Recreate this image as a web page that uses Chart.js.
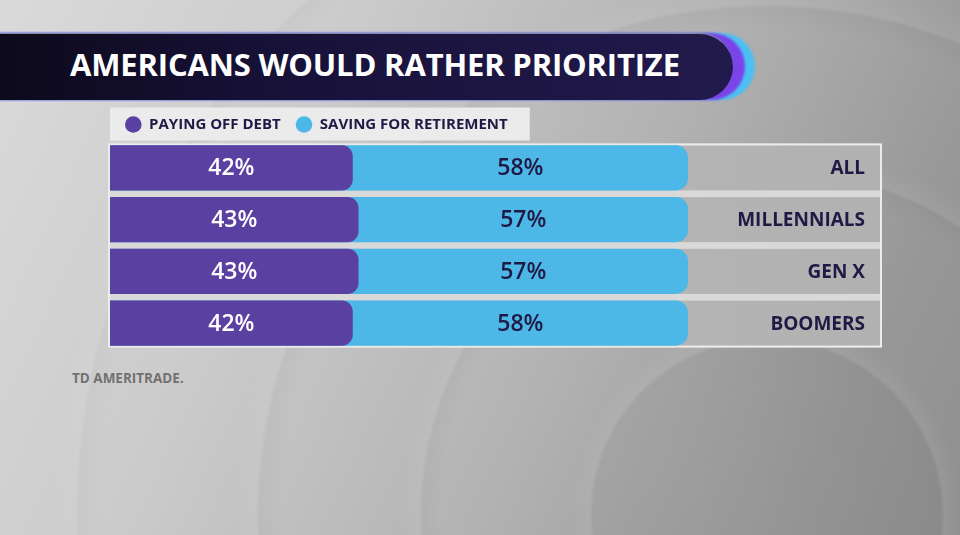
<!DOCTYPE html>
<html>
<head>
<meta charset="utf-8">
<script src="https://cdn.jsdelivr.net/npm/chart.js@4.4.1/dist/chart.umd.min.js"></script>
<style>
  html, body { margin: 0; padding: 0; }
  body {
    width: 960px; height: 535px; overflow: hidden; position: relative;
    font-family: "Open Sans", sans-serif;
    background:
      radial-gradient(circle at 767px 515px,
        rgba(0,0,0,0.02) 0, rgba(0,0,0,0.04) 174px, rgba(255,255,255,0.06) 178px, rgba(255,255,255,0) 196px,
        rgba(0,0,0,0) 325px, rgba(0,0,0,0.03) 344px, rgba(255,255,255,0.06) 348px, rgba(255,255,255,0) 368px,
        rgba(0,0,0,0) 485px, rgba(0,0,0,0.03) 507px, rgba(255,255,255,0.06) 511px, rgba(255,255,255,0) 535px,
        rgba(0,0,0,0) 665px, rgba(0,0,0,0.025) 688px, rgba(255,255,255,0.05) 692px, rgba(255,255,255,0) 715px),
      linear-gradient(115deg, #dadada 0%, #cbcbcb 30%, #b2b2b2 60%, #989898 85%, #8f8f8f 100%);
  }
  .band { position: absolute; left: 0; top: 33px; height: 67px; border-radius: 0 34px 34px 0; }
  #b1 { width: 755px; background: #4cc0f2; filter: blur(1.2px); }
  #b2 { width: 745px; background: #7a44e8; filter: blur(1px); }
  #b3 { width: 733px; background: linear-gradient(90deg, #0c0a1b 0%, #18123a 40%, #211a4c 100%); border-top: 1px solid #8a86a0; box-sizing: border-box; }
  #title { position: absolute; left: 70px; top: 49px; font-size: 31px; line-height: 31px; font-weight: 700; color: #ffffff; white-space: nowrap; }
  #source { position: absolute; left: 72px; top: 372px; font-size: 13.5px; line-height: 13px; font-weight: 700; color: #717171; white-space: nowrap; }
  #wrap { position: absolute; left: 0; top: 0; width: 960px; height: 535px; }
</style>
</head>
<body>
<div class="band" id="b1"></div>
<div class="band" id="b2"></div>
<div class="band" id="b3"></div>
<div id="title">AMERICANS WOULD RATHER PRIORITIZE</div>
<div id="source">TD AMERITRADE.</div>
<div id="wrap"><canvas id="c" width="960" height="535"></canvas></div>
<script>
// ---- data ----
const categories = ["ALL", "MILLENNIALS", "GEN X", "BOOMERS"];
const seriesNames = ["PAYING OFF DEBT", "SAVING FOR RETIREMENT"];
const payingOffDebt = [42, 43, 43, 42];
const savingForRetirement = [58, 57, 57, 58];

// fit title width
(function () {
  const t = document.getElementById('title');
  const target = 610;
  const w = t.getBoundingClientRect().width;
  const n = t.textContent.length;
  t.style.letterSpacing = ((target - w) / (n - 1)) + 'px';
})();

const PURPLE = '#5a40a0';
const CYAN = '#4db7e7';
const NAVY = '#1f1a45';
const FONT = '"Open Sans", sans-serif';

const panelPlugin = {
  id: 'panel',
  beforeDraw(chart) {
    const ctx = chart.ctx;
    const lg = chart.legend;
    if (lg && lg.legendHitBoxes && lg.legendHitBoxes.length) {
      const hbs = lg.legendHitBoxes;
      const last = hbs[hbs.length - 1];
      const cy = hbs[0].top + hbs[0].height / 2;
      ctx.save();
      ctx.fillStyle = '#ebebeb';
      ctx.fillRect(lg.left, cy - 17, last.left + last.width + 22 - lg.left, 33);
      ctx.restore();
    }
  },
  beforeDatasetsDraw(chart) {
    const ctx = chart.ctx;
    const meta = chart.getDatasetMeta(0);
    const els = meta.data;
    if (!els.length) return;
    const left = chart.chartArea.left;
    const right = 880;
    const first = els[0], last = els[els.length - 1];
    const top = first.y - first.height / 2;
    const bottom = last.y + last.height / 2;
    ctx.save();
    ctx.fillStyle = '#d9d9d9';
    ctx.fillRect(left, top, right - left, bottom - top);
    els.forEach(el => {
      const g = ctx.createLinearGradient(left, 0, right, 0);
      g.addColorStop(0, '#bdbdbd');
      g.addColorStop(1, '#b1b1b1');
      ctx.fillStyle = g;
      ctx.fillRect(left, el.y - el.height / 2, right - left, el.height);
    });
    ctx.strokeStyle = '#ececec';
    ctx.lineWidth = 2;
    ctx.strokeRect(left - 1, top - 1, right - left + 2, bottom - top + 2);
    ctx.restore();
  },
  afterDatasetsDraw(chart) {
    const ctx = chart.ctx;
    const xs = chart.scales.x, ys = chart.scales.y;
    const m0 = chart.getDatasetMeta(0), m1 = chart.getDatasetMeta(1);
    ctx.save();
    ctx.textBaseline = 'middle';
    ctx.textAlign = 'center';
    ctx.font = '600 23px ' + FONT;
    m0.data.forEach((el, i) => {
      ctx.fillStyle = '#ffffff';
      const x0 = xs.getPixelForValue(0);
      ctx.fillText(payingOffDebt[i] + '%', (x0 + el.x) / 2, el.y + 1);
    });
    m1.data.forEach((el, i) => {
      ctx.fillStyle = NAVY;
      const xa = xs.getPixelForValue(payingOffDebt[i]);
      ctx.fillText(savingForRetirement[i] + '%', (xa + el.x) / 2, el.y + 1);
    });
    ctx.textAlign = 'right';
    ctx.font = '700 19px ' + FONT;
    ctx.fillStyle = NAVY;
    categories.forEach((c, i) => {
      ctx.fillText(c, 865, ys.getPixelForValue(i) + 1);
    });
    ctx.restore();
  }
};

new Chart(document.getElementById('c'), {
  type: 'bar',
  data: {
    labels: categories,
    datasets: [
      {
        label: seriesNames[0],
        data: payingOffDebt,
        backgroundColor: PURPLE,
        borderWidth: 0,
        borderSkipped: false,
        borderRadius: { topLeft: 0, bottomLeft: 0, topRight: 11, bottomRight: 11 },
        grouped: false,
        order: 0
      },
      {
        label: seriesNames[1],
        data: payingOffDebt.map((d, i) => [0, d + savingForRetirement[i]]),
        backgroundColor: CYAN,
        borderWidth: 0,
        borderSkipped: false,
        borderRadius: { topLeft: 0, bottomLeft: 0, topRight: 12, bottomRight: 12 },
        grouped: false,
        order: 1
      }
    ]
  },
  options: {
    responsive: false,
    animation: false,
    indexAxis: 'y',
    layout: { padding: { left: 110, right: 272, top: 102, bottom: 186 } },
    datasets: { bar: { barPercentage: 1, categoryPercentage: 0.87 } },
    scales: {
      x: { display: false, min: 0, max: 100, stacked: false },
      y: { display: false }
    },
    plugins: {
      legend: {
        display: true,
        position: 'top',
        align: 'start',
        labels: {
          usePointStyle: true,
          pointStyle: 'circle',
          boxHeight: 11.7,
          pointStyleWidth: 16.6,
          padding: 15,
          color: NAVY,
          font: { family: FONT, size: 15, weight: '700' }
        }
      },
      tooltip: { enabled: false },
      title: { display: false }
    }
  },
  plugins: [panelPlugin]
});
</script>
</body>
</html>
